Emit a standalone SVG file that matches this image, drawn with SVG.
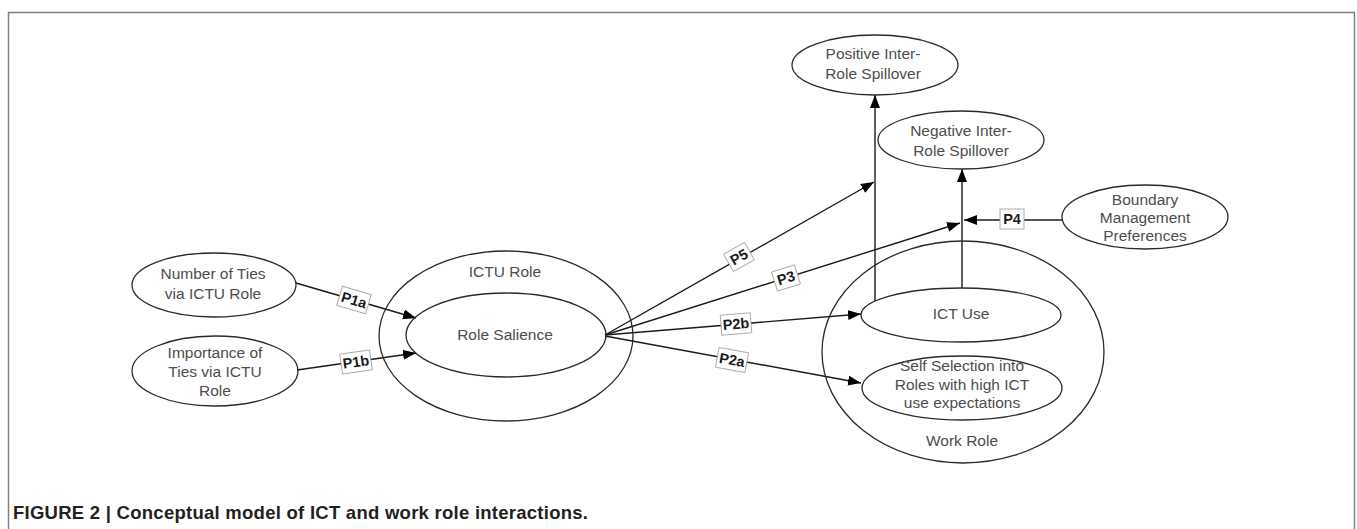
<svg xmlns="http://www.w3.org/2000/svg" width="1357" height="529" viewBox="0 0 1357 529">
<style>
.n{fill:none;stroke:#2a2a2a;stroke-width:1.3}
.t{font-family:"Liberation Sans",Arial,sans-serif;font-size:15.5px;fill:#4d4d4d;text-anchor:middle}
.c{fill:none;stroke:#1a1a1a;stroke-width:1.4}
.lb{fill:#fff;stroke:#9a9a9a;stroke-width:0.8}
.lt{font-family:"Liberation Sans",Arial,sans-serif;font-size:14.5px;font-weight:bold;fill:#1a1a1a;text-anchor:middle}
</style>
<defs>
<marker id="ah" markerUnits="userSpaceOnUse" markerWidth="14" markerHeight="11" refX="13" refY="5" orient="auto">
<path d="M0,0 L13,5 L0,10 z" fill="#000"/>
</marker>
</defs>
<rect width="1357" height="529" fill="#fff"/>
<path d="M8.5,529 V12.5 H1354.5 V529" fill="none" stroke="#808080" stroke-width="1.5"/>

<g id="connectors">
<line class="c" x1="296" y1="283" x2="416" y2="318" marker-end="url(#ah)"/>
<line class="c" x1="297" y1="370" x2="416" y2="353" marker-end="url(#ah)"/>
<line class="c" x1="605" y1="335" x2="874" y2="182" marker-end="url(#ah)"/>
<line class="c" x1="605" y1="335" x2="960" y2="223" marker-end="url(#ah)"/>
<line class="c" x1="605" y1="335" x2="861" y2="314" marker-end="url(#ah)"/>
<line class="c" x1="605" y1="336" x2="861" y2="383" marker-end="url(#ah)"/>
<line class="c" x1="875" y1="301" x2="875" y2="95" marker-end="url(#ah)"/>
<line class="c" x1="962" y1="288" x2="962" y2="169" marker-end="url(#ah)"/>
<line class="c" x1="1063" y1="220" x2="964" y2="220" marker-end="url(#ah)"/>
<g transform="translate(354,300) rotate(16.3)"><rect class="lb" x="-15" y="-10" width="30" height="20"/><text class="lt" y="5">P1a</text></g>
<g transform="translate(356,362) rotate(-8.1)"><rect class="lb" x="-15" y="-10" width="30" height="20"/><text class="lt" y="5">P1b</text></g>
<g transform="translate(739,257) rotate(-29.6)"><rect class="lb" x="-12" y="-10" width="24" height="20"/><text class="lt" y="5">P5</text></g>
<g transform="translate(786,278) rotate(-17.5)"><rect class="lb" x="-12" y="-10" width="24" height="20"/><text class="lt" y="5">P3</text></g>
<g transform="translate(736,324) rotate(-4.7)"><rect class="lb" x="-15" y="-10" width="30" height="20"/><text class="lt" y="5">P2b</text></g>
<g transform="translate(732,360) rotate(10.2)"><rect class="lb" x="-15" y="-10" width="30" height="20"/><text class="lt" y="5">P2a</text></g>
<g transform="translate(1012,219)"><rect class="lb" x="-12" y="-10" width="24" height="20"/><text class="lt" y="5">P4</text></g>
</g>

<g id="number-of-ties">
<ellipse class="n" cx="214" cy="285" rx="82" ry="32"/>
<text class="t" x="213" y="278.5">Number of Ties</text>
<text class="t" x="213" y="298.5">via ICTU Role</text>
</g>
<g id="importance-of-ties">
<ellipse class="n" cx="215" cy="371" rx="83" ry="35"/>
<text class="t" x="215" y="357.5">Importance of</text>
<text class="t" x="215" y="376.5">Ties via ICTU</text>
<text class="t" x="215" y="395.5">Role</text>
</g>
<g id="ictu-role">
<ellipse class="n" cx="506" cy="336" rx="127" ry="85"/>
<text class="t" x="505" y="276.5">ICTU Role</text>
</g>
<g id="role-salience">
<ellipse class="n" cx="506" cy="335" rx="100" ry="42"/>
<text class="t" x="505" y="339.5">Role Salience</text>
</g>
<g id="positive-spillover">
<ellipse class="n" cx="875" cy="65" rx="83" ry="30"/>
<text class="t" x="873" y="58.5">Positive Inter-</text>
<text class="t" x="873" y="78.5">Role Spillover</text>
</g>
<g id="negative-spillover">
<ellipse class="n" cx="961" cy="140" rx="83" ry="29"/>
<text class="t" x="961" y="136">Negative Inter-</text>
<text class="t" x="961" y="155.5">Role Spillover</text>
</g>
<g id="boundary-management">
<ellipse class="n" cx="1145" cy="217" rx="83" ry="32"/>
<text class="t" x="1145" y="204.5">Boundary</text>
<text class="t" x="1145" y="222.5">Management</text>
<text class="t" x="1145" y="240.5">Preferences</text>
</g>
<g id="work-role">
<ellipse class="n" cx="963" cy="352" rx="141" ry="111"/>
<text class="t" x="962" y="445.5">Work Role</text>
</g>
<g id="ict-use">
<ellipse class="n" cx="961" cy="315" rx="100" ry="27"/>
<text class="t" x="961" y="318.5">ICT Use</text>
</g>
<g id="self-selection">
<ellipse class="n" cx="962" cy="388" rx="100" ry="32"/>
<text class="t" x="962" y="371">Self Selection into</text>
<text class="t" x="962" y="389.5">Roles with high ICT</text>
<text class="t" x="962" y="408">use expectations</text>
</g>

<text x="13" y="519" font-family="'Liberation Sans',Arial,sans-serif" font-size="18.5" font-weight="bold" fill="#231f20" textLength="575" lengthAdjust="spacing">FIGURE 2 | Conceptual model of ICT and work role interactions.</text>
</svg>
